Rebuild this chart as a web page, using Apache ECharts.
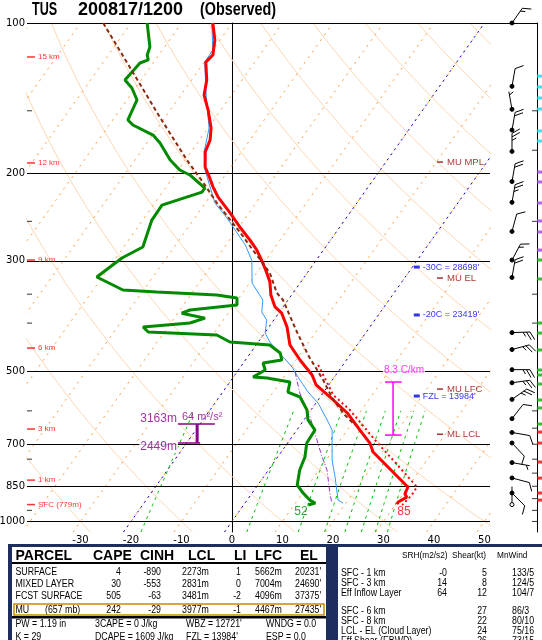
<!DOCTYPE html>
<html>
<head>
<meta charset="utf-8">
<title>TUS 200817/1200 Skew-T</title>
<script src="https://cdn.jsdelivr.net/npm/echarts@6/dist/echarts.min.js"></script>
<style>
html,body{margin:0;padding:0;background:#ffffff;}
#chart{width:542px;height:640px;}
</style>
</head>
<body>
<div id="chart"></div>
<script>
// ================= DATA =================
// Temperature profile (hPa, degC)
const tempP = [100,108.2,115.9,119.8,130.1,139.5,149.5,162.4,171.7,181.4,194.5,200.9,213.4,223.5,240.5,256.6,272.4,285.4,303.0,317.3,331.0,351.3,371.3,382.1,407.4,442.6,474.4,508.4,532.4,570.6,605.9,655.6,696.2,725.8,853.0,881.2,893.7,914.3,922.8];
const tempT = [-73.8,-71.0,-69.3,-69.7,-67.0,-65.4,-62.5,-59.4,-57.9,-57.2,-55.1,-53.5,-50.7,-48.3,-43.7,-39.8,-36.0,-33.2,-30.2,-28.0,-26.1,-24.1,-21.6,-19.4,-16.4,-13.3,-9.2,-4.7,-2.5,3.0,7.6,12.5,16.3,18.2,30.0,30.4,31.2,30.2,30.2];
// Dewpoint profile
const dwptP = [100,111.7,115.9,118.6,120.3,130.1,135.0,142.7,156.5,160.2,167.8,174.1,188.3,197.2,201.8,214.4,218.4,231.9,248.5,281.4,296.1,323.3,343.3,346.5,351.3,356.2,367.9,376.5,382.1,390.9,399.9,407.4,416.9,422.6,436.5,442.6,459.3,474.4,481.0,496.8,513.2,515.6,525.2,550.0,562.8,597.6,625.8,655.6,696.2,742.6,788.7,845.1,877.1,906.0,918.6,927.1];
const dwptT = [-86.8,-82.9,-82.3,-81.4,-82.6,-83.2,-80.7,-78.0,-77.0,-75.3,-69.9,-67.4,-63.0,-59.7,-57.0,-52.2,-52.2,-58.3,-58.2,-56.2,-58.8,-61.1,-54.1,-47.1,-34.8,-30.4,-29.4,-38.0,-39.2,-33.9,-36.2,-44.9,-43.2,-29.2,-25.6,-17.3,-14.1,-12.8,-16.1,-14.7,-16.1,-13.2,-8.1,-7.1,-4.0,-0.8,0.8,3.6,3.8,5.4,6.2,7.8,10.1,12.4,13.9,12.8];
// Wet-bulb profile
const wetbP = [100,113.3,119.8,139.5,162.4,181.4,197.2,229.7,246.2,263.8,278.8,298.9,332.4,359.5,380.2,394.5,418.8,436.5,457.1,474.4,490.0,520.4,550.0,578.5,625.8,655.6,753.0,814.9,906.0,918.6];
const wetbT = [-74.0,-70.0,-69.9,-65.0,-59.8,-57.4,-54.7,-48.1,-43.6,-39.5,-36.2,-32.8,-29.5,-25.0,-23.5,-21.4,-19.9,-17.7,-14.7,-12.0,-9.8,-6.4,-3.1,0.4,4.6,7.0,11.2,14.2,18.0,19.4];
// Downdraft (DCAPE) trace
const dcapeP = [501.4,552.5,617.3,686.6,742.6,788.7,877.1,918.6];
const dcapeT = [-8.5,-4.6,0.8,5.4,8.8,11.6,15.4,17.2];
// Most-unstable parcel trace
const muP = [100,154.4,188.3,211.4,229.7,262.6,285.4,303.0,317.3,348.1,359.5,413.0,463.6,496.8,520.4,570.6,611.5,640.5];
const muT = [-95.5,-71.1,-59.7,-52.6,-47.7,-39.1,-34.0,-30.2,-27.4,-23.2,-21.0,-14.2,-8.3,-4.4,-1.8,3.0,7.4,10.8];
// Surface-based parcel trace (lower levels)
const sbP = [485.4,557.6,597.6,686.6,760.0,853.0,885.2,927.1];
const sbT = [-4.9,2.3,7.7,16.9,23.9,31.8,31.9,31.4];

// Winds: pressure (hPa), direction (deg), speed (kt)
const windP   = [100,134,149,164,181,208,229,262,299,324,418,452,496,527,569,622,663,696,762,818,877,925];
const windDir = [35,10,350,10,0,10,10,15,28,10,88,75,90,82,55,38,100,137,100,105,135,0];
const windSpd = [15,10,5,20,25,20,25,10,15,20,25,25,25,25,25,10,10,10,5,10,10,2];

// Axis / reference levels
const pressureLines = [100,200,300,500,700,850,1000];
const leftTickP  = [150,250,350,400,600,750,950];
const rightTickP = [150,180,250,350,400,600,650,700,750,800,850,900,950,1000];
const tickCyanP   = [127.8,134.4,141.4,148.8,164.7,172.5];
const tickPurpleP = [199.1,208.4,229.7,249.6,262.6,285.5];
const tickGreenP  = [298.9,326.3,399.9,418.8,452.9,496.8,508.4,530.0,570.6,592.0,637.6];
const tickRedP    = [661.7,696.2,760.0,818.6,877.0,906.0];
const heightLabels = ['15 km','12 km','9 km','6 km','3 km','1 km','SFC (779m)'];
const heightP      = [117.0,190.9,298.9,448.9,652.6,826.2,925];

// Background line families
const isothermsT = [-120,-110,-100,-90,-80,-70,-60,-50,-40,-30,-20,-10,0,10,20,30,40,50];
const highlightT = [-20,0];
const adiabatT1000 = [-30,-10,10,30,50,70,90,110,130,150,170,190,210,230];
const mixingW = [1,5,10,14,18,22,26,30];

// Annotations (label, unskewed x value, pressure)
const muLabels   = ['MU MPL','MU EL','MU LFC','ML LCL'];
const muLabelP   = [190.1,324.8,542.5,668.5];
const tLevLabels = ["-30C = 28698'","-20C = 23419'","FZL = 13984'"];
const tLevP      = [308.8,385.3,560.3];
const lapseText = '8.3 C/km';
const lapseP = [525.2, 671.0];
const srhTopText = '3163m', srhBotText = '2449m', srhValText = '64 m\u00b2/s\u00b2';
const srhP = [637.6, 696.2];
const sfcTdText = '52', sfcTText = '85';

// Table
const parcelHead  = ['PARCEL','CAPE','CINH','LCL','LI','LFC','EL'];
const parcelNames = ['SURFACE','MIXED LAYER','FCST SURFACE','MU'];
const parcelCAPE  = ['4','30','505','242'];
const parcelCINH  = ['-890','-553','-63','-29'];
const parcelLCL   = ['2273m','2831m','3481m','3977m'];
const parcelLI    = ['1','0','-2','-1'];
const parcelLFC   = ['5662m','7004m','4096m','4467m'];
const parcelEL    = ["20231'","24690'","37375'","27435'"];
const indexRows = [['PW = 1.19 in','3CAPE = 0 J/kg',"WBZ = 12721'",'WNDG = 0.0'],
                   ['K = 29','DCAPE = 1609 J/kg',"FZL = 13984'",'ESP = 0.0']];
const kinHead   = ['SRH(m2/s2)','Shear(kt)','MnWind'];
const kinLabels = ['SFC - 1 km','SFC - 3 km','Eff Inflow Layer','SFC - 6 km','SFC - 8 km','LCL - EL (Cloud Layer)','Eff Shear (EBWD)'];
const kinSRH    = ['-0','14','64','','','',''];
const kinShear  = ['5','8','12','27','22','24','26'];
const kinMnWind = ['133/5','124/5','104/7','86/3','80/10','75/16','73/15'];

// ================= CHART =================
const SKEW = 70;                     // degC per decade of pressure
const X_MIN = -40.6, X_MAX = 51.1;
const P_TOP = 100, P_BOT = 1050;
const skewX = (T, p) => T + SKEW * Math.log10(1000 / p);
const pair = (P, T) => P.map((p, i) => [skewX(T[i], p), p]);

const SANS = 'Liberation Sans';
const series = [];
function addLine(data, lineStyle, z, extra) {
  series.push(Object.assign({
    type: 'line', xAxisIndex: 0, yAxisIndex: 0, data: data,
    symbol: 'none', showSymbol: false, silent: true, clip: true,
    animation: false, z: z, lineStyle: lineStyle
  }, extra || {}));
}

// dry adiabats
const pSteps = []; for (let p = P_BOT; p >= P_TOP; p -= 10) pSteps.push(p);
adiabatT1000.forEach(t0 => {
  const th = t0 + 273.15;
  addLine(pSteps.map(p => [skewX(th * Math.pow(p / 1000, 0.2857) - 273.15, p), p]),
    {color: '#fcd7b3', width: 1, type: 'solid'}, 1);
});
// isotherms
isothermsT.forEach(t => addLine([[skewX(t, P_BOT), P_BOT], [skewX(t, P_TOP), P_TOP]],
  {color: '#ff9a3c', width: 1, type: [2, 5]}, 2));
highlightT.forEach(t => addLine([[skewX(t, P_BOT), P_BOT], [skewX(t, P_TOP), P_TOP]],
  {color: '#0000ee', width: 1, type: [2, 4]}, 2));
// mixing ratio lines
function tdFromW(w, p) { const e = w * p / (622 + w); const l = Math.log(e / 6.112); return 243.5 * l / (17.67 - l); }
const mSteps = []; for (let p = P_BOT; p >= 600; p -= 25) mSteps.push(p);
mixingW.forEach(w => addLine(mSteps.map(p => [skewX(tdFromW(w, p), p), p]),
  {color: '#00c000', width: 1, type: [3, 4]}, 2));

// pressure lines + labels
series.push({
  type: 'line', xAxisIndex: 0, yAxisIndex: 0, data: [], silent: true, animation: false,
  markLine: {
    silent: true, animation: false, symbol: ['none', 'none'],
    lineStyle: {color: '#000', width: 1, type: 'solid'},
    label: {show: true, position: 'start', distance: 2, color: '#000', fontFamily: 'DejaVu Sans', fontSize: 10,
      formatter: p => String(p.value)},
    data: pressureLines.map(v => ({yAxis: v}))
  }
});

// profiles
addLine(pair(wetbP, wetbT), {color: '#3399ff', width: 1}, 5);
addLine(pair(dcapeP, dcapeT), {color: '#9933cc', width: 1, type: [5, 2, 1, 2]}, 5);
addLine(pair(dwptP, dwptT), {color: '#008a00', width: 3}, 6);
addLine(pair(tempP, tempT), {color: '#ff0000', width: 3}, 6);
addLine(pair(muP, muT), {color: '#8b2a10', width: 2, type: [4, 3]}, 7);
addLine(pair(sbP, sbT), {color: '#ff0000', width: 2, type: [2, 3]}, 7);

// lapse-rate bar (magenta)
const lapseX = 31.9;
addLine([[lapseX, lapseP[0]], [lapseX, lapseP[1]]], {color: '#ff00ff', width: 1.5}, 8, {clip: false});
addLine([[lapseX - 1.6, lapseP[0]], [lapseX + 1.7, lapseP[0]]], {color: '#ff00ff', width: 1.5}, 8, {clip: false});
addLine([[lapseX - 1.6, lapseP[1]], [lapseX + 1.7, lapseP[1]]], {color: '#ff00ff', width: 1.5}, 8, {clip: false});
// effective inflow layer bar (purple)
addLine([[-10.7, srhP[0]], [-3.4, srhP[0]]], {color: '#8a008a', width: 1.5}, 8);
addLine([[-10.7, srhP[1]], [-6.3, srhP[1]]], {color: '#8a008a', width: 1.5}, 8);
addLine([[-6.9, srhP[0]], [-6.9, srhP[1]]], {color: '#8a008a', width: 3}, 8);

// left axis minor ticks
series.push({
  type: 'scatter', xAxisIndex: 0, yAxisIndex: 0, silent: true, animation: false, clip: false, z: 9,
  symbol: 'rect', symbolSize: [5, 1], symbolOffset: [2.5, 0], itemStyle: {color: '#000'},
  data: leftTickP.map(p => [X_MIN, p])
});
// height markers
series.push({
  type: 'scatter', xAxisIndex: 0, yAxisIndex: 0, silent: true, animation: false, clip: false, z: 9,
  symbol: 'rect', symbolSize: [8, 1.5], symbolOffset: [4, 0], itemStyle: {color: '#ff0000'},
  label: {show: true, position: 'right', distance: 3, color: '#ff0000', fontFamily: SANS, fontSize: 8},
  data: heightP.map((p, i) => ({value: [X_MIN, p], label: {formatter: heightLabels[i]}}))
});
// MU level labels
series.push({
  type: 'scatter', xAxisIndex: 0, yAxisIndex: 0, silent: true, animation: false, clip: false, z: 9,
  symbol: 'rect', symbolSize: [6, 1.5], itemStyle: {color: '#8b0000'},
  label: {show: true, position: 'right', distance: 4, color: '#8b0000', fontFamily: SANS, fontSize: 9.5},
  data: muLabelP.map((p, i) => ({value: [41.2, p], label: {formatter: muLabels[i]}}))
});
// temperature level labels
series.push({
  type: 'scatter', xAxisIndex: 0, yAxisIndex: 0, silent: true, animation: false, clip: false, z: 9,
  symbol: 'rect', symbolSize: [6, 3], itemStyle: {color: '#0000ee'},
  label: {show: true, position: 'right', distance: 3, color: '#0000ee', fontFamily: SANS, fontSize: 9},
  data: tLevP.map((p, i) => ({value: [36.6, p], label: {formatter: tLevLabels[i]}}))
});
// free text labels
function textPt(x, p, txt, color, size, pos, bg) {
  return {value: [x, p], symbolSize: 0,
    label: {show: true, formatter: txt, color: color, fontSize: size, fontFamily: SANS, position: pos, distance: 0,
      backgroundColor: bg || 'transparent', padding: bg ? [0, 1] : 0}};
}
series.push({
  type: 'scatter', xAxisIndex: 0, yAxisIndex: 0, silent: true, animation: false, clip: false, z: 10,
  symbol: 'circle', symbolSize: 0,
  data: [
    textPt(29.9, 496.8, lapseText, '#ff00ff', 10, 'right', '#fff'),
    textPt(-10.7, 623.0, srhTopText, '#8a008a', 12, 'left', '#fff'),
    textPt(-10.7, 708.9, srhBotText, '#8a008a', 12, 'left', '#fff'),
    textPt(-9.9, 617.0, srhValText, '#8a008a', 11, 'right'),
    textPt(13.67, 957.5, sfcTdText, '#008a00', 12, 'inside'),
    textPt(34.07, 957.5, sfcTText, '#ff0000', 12, 'inside')
  ]
});

// ----- wind column (grid 1) -----
const WIND_X = 0.468;
function renderBarb(params, api) {
  const p = api.value(1), dir = api.value(2), spd = api.value(3);
  const b = api.coord([api.value(0), p]);
  const r = dir * Math.PI / 180;
  const u = [Math.sin(r), -Math.cos(r)];
  const n = [-u[1], u[0]];
  const L = 18;
  const tip = [b[0] + u[0] * L, b[1] + u[1] * L];
  const ls = {stroke: '#000', lineWidth: 1};
  const ch = [];
  if (spd > 0) ch.push({type: 'line', shape: {x1: b[0], y1: b[1], x2: tip[0], y2: tip[1]}, style: ls});
  const fv = [n[0] * 0.87 + u[0] * 0.5, n[1] * 0.87 + u[1] * 0.5];
  let s = Math.round(spd / 5) * 5, pos = 0;
  while (s >= 50) {
    const q = [tip[0] - u[0] * pos, tip[1] - u[1] * pos];
    const q2 = [q[0] - u[0] * 4, q[1] - u[1] * 4];
    ch.push({type: 'polygon', shape: {points: [q, [q[0] + n[0] * 9, q[1] + n[1] * 9], q2]}, style: {fill: '#000'}});
    pos += 5; s -= 50;
  }
  while (s >= 10) {
    const q = [tip[0] - u[0] * pos, tip[1] - u[1] * pos];
    ch.push({type: 'line', shape: {x1: q[0], y1: q[1], x2: q[0] + fv[0] * 9, y2: q[1] + fv[1] * 9}, style: ls});
    pos += 3.5; s -= 10;
  }
  if (s >= 5) {
    if (pos === 0) pos = 3.5;
    const q = [tip[0] - u[0] * pos, tip[1] - u[1] * pos];
    ch.push({type: 'line', shape: {x1: q[0], y1: q[1], x2: q[0] + fv[0] * 5, y2: q[1] + fv[1] * 5}, style: ls});
  }
  ch.push({type: 'circle', shape: {cx: b[0], cy: b[1], r: 2},
    style: {fill: spd >= 5 ? '#000' : '#fff', stroke: '#000', lineWidth: 1}});
  return {type: 'group', children: ch};
}
series.push({
  type: 'custom', xAxisIndex: 1, yAxisIndex: 1, silent: true, animation: false, z: 10,
  renderItem: renderBarb,
  data: windP.map((p, i) => [WIND_X, p, windDir[i], windSpd[i]])
});
series.push({
  type: 'line', xAxisIndex: 1, yAxisIndex: 1, data: [], silent: true, animation: false,
  markLine: {silent: true, animation: false, symbol: ['none', 'none'], label: {show: false},
    lineStyle: {color: '#000', width: 1, type: 'solid'}, data: [{yAxis: P_TOP}]}
});
series.push({
  type: 'scatter', xAxisIndex: 1, yAxisIndex: 1, silent: true, animation: false, clip: false, z: 9,
  symbol: 'rect', symbolSize: [5, 1], symbolOffset: [-2.5, 0], itemStyle: {color: '#000'},
  data: rightTickP.map(p => [1, p])
});
[[tickCyanP, '#00e0f0'], [tickPurpleP, '#9a3cf0'], [tickGreenP, '#00b000'], [tickRedP, '#ff0000']].forEach(([arr, c]) => {
  series.push({
    type: 'scatter', xAxisIndex: 1, yAxisIndex: 1, silent: true, animation: false, clip: false, z: 9,
    symbol: 'rect', symbolSize: [6, 3], symbolOffset: [3, 0], itemStyle: {color: c},
    data: arr.map(p => [1, p])
  });
});

// ----- graphic: title + table -----
const G = [];
function txt(t, x, y, font, color, align, scaleX) {
  G.push({type: 'text', x: x, y: y, scaleX: scaleX || 1, silent: true,
    style: {text: t, x: 0, y: 0, font: font, fill: color || '#000', align: align || 'left', verticalAlign: 'middle'}});
}
function rect(x, y, w, h, fill) {
  G.push({type: 'rect', silent: true, shape: {x: x, y: y, width: w, height: h}, style: {fill: fill}});
}
const TB = 'bold 18px ' + SANS;
txt('TUS', 32, 10, TB, '#000', 'left', 0.7);
txt('200817/1200', 78, 10, TB, '#000', 'left', 1.0);
txt('(Observed)', 200, 10, TB, '#000', 'left', 0.8);

rect(8, 544, 534, 96, '#1c2d5e');
rect(12, 547, 314, 93, '#ffffff');
rect(338, 547, 204, 93, '#ffffff');
const headX = [15.5, 93, 140, 188, 234, 255, 300];
parcelHead.forEach((h, i) => txt(h, headX[i], 556, 'bold 14px ' + SANS));
rect(12, 562, 314, 2, '#000');
const rowY = [572, 584, 596.5, 610];
const F10 = '10px ' + SANS;
const SX = 0.88;
parcelNames.forEach((nm, i) => {
  txt(nm, 15.5, rowY[i], F10, '#000', 'left', SX);
  txt(parcelCAPE[i], 121, rowY[i], F10, '#000', 'right', SX);
  txt(parcelCINH[i], 161, rowY[i], F10, '#000', 'right', SX);
  txt(parcelLCL[i], 182, rowY[i], F10, '#000', 'left', SX);
  txt(parcelLI[i], 241, rowY[i], F10, '#000', 'right', SX);
  txt(parcelLFC[i], 255, rowY[i], F10, '#000', 'left', SX);
  txt(parcelEL[i], 295, rowY[i], F10, '#000', 'left', SX);
});
txt('(657 mb)', 45, rowY[3], F10, '#000', 'left', SX);
G.push({type: 'rect', silent: true, shape: {x: 14, y: 604, width: 310, height: 11},
  style: {fill: 'none', stroke: '#c98a00', lineWidth: 1.5}});
rect(12, 616, 314, 2.5, '#000');
const idxX = [15.5, 95, 186, 266], idxY = [624.5, 637.5];
indexRows.forEach((row, r) => row.forEach((t, c) => txt(t, idxX[c], idxY[r], F10, '#000', 'left', SX)));

const F9 = '9px ' + SANS;
[402, 452, 497].forEach((x, i) => txt(kinHead[i], x, 555.5, F9, '#000', 'left', 0.92));
const kinY = [573, 583, 593.5, 611, 621, 631, 641];
kinLabels.forEach((l, i) => {
  txt(l, 341, kinY[i], F10, '#000', 'left', SX);
  if (kinSRH[i]) txt(kinSRH[i], 447, kinY[i], F10, '#000', 'right', SX);
  txt(kinShear[i], 487, kinY[i], F10, '#000', 'right', SX);
  txt(kinMnWind[i], 512, kinY[i], F10, '#000', 'left', SX);
});

const option = {
  backgroundColor: '#ffffff',
  animation: false,
  grid: [
    {left: 27, top: 23, width: 463, height: 509, containLabel: false},
    {left: 490, top: 23, width: 47, height: 509, containLabel: false}
  ],
  xAxis: [
    {type: 'value', gridIndex: 0, min: X_MIN, max: X_MAX, minInterval: 10, maxInterval: 10,
      axisLine: {show: false}, axisTick: {show: false}, splitLine: {show: false},
      axisLabel: {show: true, margin: 3, color: '#000', fontFamily: 'DejaVu Sans', fontSize: 10,
        formatter: v => { const r = Math.round(v); return (Math.abs(v - r) < 1e-6 && r % 10 === 0 && r > -35) ? String(r) : ''; }}},
    {type: 'value', gridIndex: 1, min: 0, max: 1, show: false}
  ],
  yAxis: [
    {type: 'log', logBase: 10, gridIndex: 0, min: P_TOP, max: P_BOT, inverse: true,
      axisLine: {show: true, lineStyle: {color: '#000', width: 1}}, axisTick: {show: false},
      axisLabel: {show: false}, splitLine: {show: false}, minorTick: {show: false}},
    {type: 'log', logBase: 10, gridIndex: 1, min: P_TOP, max: P_BOT, inverse: true, position: 'right',
      axisLine: {show: true, onZero: false, lineStyle: {color: '#000', width: 1}}, axisTick: {show: false},
      axisLabel: {show: false}, splitLine: {show: false}}
  ],
  series: series,
  graphic: G
};
const chart = echarts.init(document.getElementById('chart'), null, {renderer: 'canvas', width: 542, height: 640});
chart.setOption(option);
</script>
</body>
</html>
